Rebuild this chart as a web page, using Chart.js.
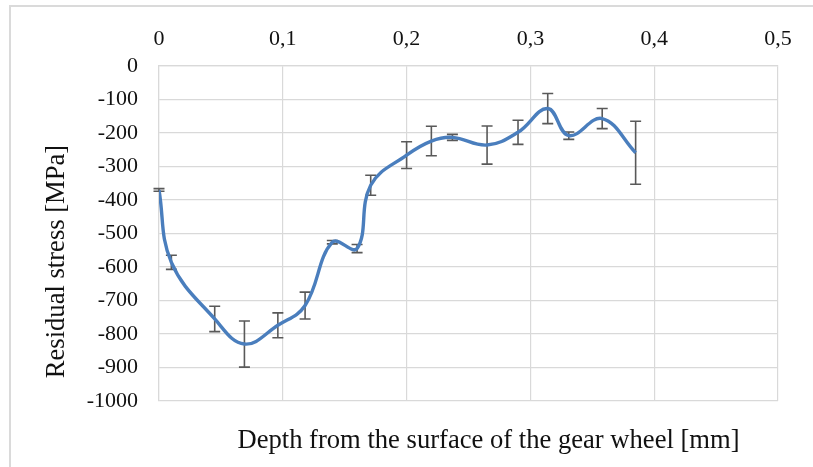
<!DOCTYPE html>
<html>
<head>
<meta charset="utf-8">
<title>Residual stress profile</title>
<script src="https://cdn.jsdelivr.net/npm/chart.js@4/dist/chart.umd.min.js"></script>
<style>
  html, body { margin: 0; padding: 0; background: #ffffff; }
  #wrap { position: relative; width: 813px; height: 467px; overflow: hidden; }
  #frame { position: absolute; left: 9px; top: 5px; width: 900px; height: 600px;
           border-left: 2px solid #dadada; border-top: 2px solid #dadada; }
  canvas { position: absolute; left: 0; top: 0; }
</style>
</head>
<body>
<div id="wrap">
  <div id="frame"></div>
  <canvas id="chart" width="813" height="467"></canvas>
</div>
<script>
// Measured depth below the tooth surface [mm]
const depth = [0, 0.010, 0.045, 0.069, 0.096, 0.118, 0.140, 0.160, 0.171, 0.200,
               0.220, 0.237, 0.265, 0.290, 0.314, 0.331, 0.358, 0.385];
// Mean residual stress at each depth [MPa]
const stress = [-370, -586, -755, -830, -774, -715, -526, -545, -356, -266,
                -224, -213, -236, -198, -127, -208, -157, -259];
// Half-width of the error bar [MPa]
const stressErr = [4, 21, 38, 69, 37, 40, 5, 12, 30, 40,
                   44, 9, 57, 36, 45, 11, 30, 94];
// Axis tick labels (decimal comma)
const xTickLabels = ['0', '0,1', '0,2', '0,3', '0,4', '0,5'];
const xAxisTitle = 'Depth from the surface of the gear wheel [mm]';
const yAxisTitle = 'Residual stress [MPa]';

const FONT = '"Liberation Serif", "Times New Roman", serif';
const GRID = '#d9d9d9';

// Vertical error bars with caps, drawn under the curve
const errorBars = {
  id: 'errorBars',
  beforeDatasetsDraw(chart) {
    const { ctx, scales: { x, y } } = chart;
    ctx.save();
    ctx.strokeStyle = '#595959';
    ctx.lineWidth = 1.6;
    const cap = 5.5;
    depth.forEach((d, i) => {
      const px = x.getPixelForValue(d);
      const top = y.getPixelForValue(stress[i] + stressErr[i]);
      const bot = y.getPixelForValue(stress[i] - stressErr[i]);
      ctx.beginPath();
      ctx.moveTo(px, top); ctx.lineTo(px, bot);
      ctx.moveTo(px - cap, top); ctx.lineTo(px + cap, top);
      ctx.moveTo(px - cap, bot); ctx.lineTo(px + cap, bot);
      ctx.stroke();
    });
    ctx.restore();
  }
};

// Axis titles: depth title below the plot, stress title rotated on the left
const axisTitles = {
  id: 'axisTitles',
  afterDraw(chart) {
    const { ctx, chartArea: a } = chart;
    ctx.save();
    ctx.fillStyle = '#111';
    ctx.font = '26.6px ' + FONT;
    ctx.textAlign = 'center';
    ctx.textBaseline = 'middle';
    ctx.fillText(xAxisTitle, (a.left + a.right) / 2 + 20, a.bottom + 40);
    ctx.translate(a.left - 102, (a.top + a.bottom) / 2 + 28);
    ctx.rotate(-Math.PI / 2);
    ctx.fillText(yAxisTitle, 0, 0);
    ctx.restore();
  }
};

new Chart(document.getElementById('chart'), {
  type: 'line',
  data: {
    datasets: [{
      data: depth.map((d, i) => ({ x: d, y: stress[i] })),
      borderColor: '#4a7ebd',
      borderWidth: 3.4,
      pointRadius: 0,
      tension: 0.4,
      fill: false
    }]
  },
  options: {
    responsive: false,
    animation: false,
    layout: { padding: { left: 0, top: 0, right: 35, bottom: 66 } },
    plugins: { legend: { display: false }, tooltip: { enabled: false } },
    scales: {
      x: {
        type: 'linear',
        position: 'top',
        min: 0, max: 0.5,
        afterFit(s) { s.height = 66; },
        ticks: {
          stepSize: 0.1,
          padding: 14,
          color: '#111',
          font: { family: FONT, size: 22 },
          callback: (v, i) => xTickLabels[i]
        },
        grid: { color: GRID, lineWidth: 1.2, drawTicks: false },
        border: { color: GRID, width: 1.2 }
      },
      y: {
        min: -1000, max: 0,
        afterFit(s) { s.width = 159; },
        ticks: {
          stepSize: 100,
          padding: 21,
          color: '#111',
          font: { family: FONT, size: 22 },
          callback: (v) => String(Math.round(v))
        },
        grid: { color: GRID, lineWidth: 1.2, drawTicks: false },
        border: { color: GRID, width: 1.2 }
      }
    }
  },
  plugins: [errorBars, axisTitles]
});
</script>
</body>
</html>
